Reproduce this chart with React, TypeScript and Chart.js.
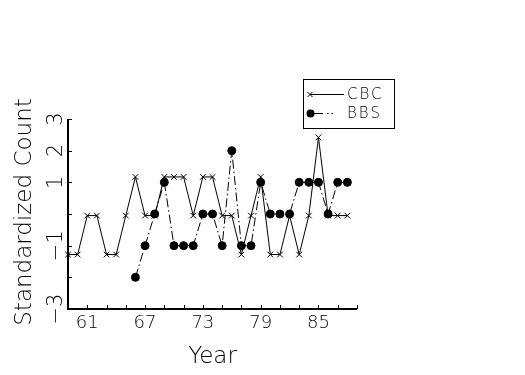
import React, { useEffect, useRef } from "react";
import { Chart, registerables } from "chart.js";

Chart.register(...registerables);

const cbcYears = [59, 60, 61, 62, 63, 64, 65, 66, 67, 68, 69, 70, 71, 72, 73, 74, 75, 76, 77, 78, 79, 80, 81, 82, 83, 84, 85, 86, 87, 88];
const cbcValues = [-1.28, -1.28, -0.05, -0.05, -1.28, -1.28, -0.05, 1.17, -0.05, -0.05, 1.17, 1.17, 1.17, -0.05, 1.17, 1.17, -0.05, -0.05, -1.28, -0.05, 1.17, -1.28, -1.28, -0.05, -1.28, -0.05, 2.42, -0.05, -0.05, -0.05];

const bbsYears = [66, 67, 68, 69, 70, 71, 72, 73, 74, 75, 76, 77, 78, 79, 80, 81, 82, 83, 84, 85, 86, 87, 88];
const bbsValues = [-2, -1, 0, 1, -1, -1, -1, 0, 0, -1, 2, -1, -1, 1, 0, 0, 0, 1, 1, 1, 0, 1, 1];

const xTickMarks = [59, 61, 63, 65, 67, 69, 71, 73, 75, 77, 79, 81, 83, 85, 87, 89];
const xTickLabels = [61, 67, 73, 79, 85];
const yTickMarks = [3, 2, 1, 0, -1, -2, -3];
const yTickLabels = [3, 2, 1, -1, -3];

const seriesNames = ["CBC", "BBS"];
const xTitle = "Year";
const yTitle = "Standardized Count";

const FONT = "'DejaVu Sans', sans-serif";
const BBS_DASH = [9, 3, 1.5, 3];

const axesPlugin = {
  id: "customAxes",
  afterDraw(chart: any) {
    const ctx = chart.ctx as CanvasRenderingContext2D;
    const xs = chart.scales.x;
    const ys = chart.scales.y;
    const area = chart.chartArea;
    ctx.save();
    ctx.strokeStyle = "#000";
    ctx.fillStyle = "#000";

    // axis lines
    ctx.lineWidth = 2;
    ctx.beginPath();
    ctx.moveTo(area.left, area.top);
    ctx.lineTo(area.left, area.bottom);
    ctx.lineTo(area.right, area.bottom);
    ctx.stroke();

    // tick marks (inward)
    ctx.lineWidth = 1;
    ctx.beginPath();
    xTickMarks.forEach((v) => {
      const px = Math.round(xs.getPixelForValue(v)) + 0.5;
      ctx.moveTo(px, area.bottom);
      ctx.lineTo(px, area.bottom - 4);
    });
    yTickMarks.forEach((v) => {
      const py = Math.round(ys.getPixelForValue(v)) + 0.5;
      ctx.moveTo(area.left, py);
      ctx.lineTo(area.left + 4, py);
    });
    ctx.stroke();

    // x tick labels
    ctx.font = `200 18px ${FONT}`;
    ctx.textAlign = "center";
    ctx.textBaseline = "alphabetic";
    xTickLabels.forEach((v) => {
      ctx.fillText(String(v), xs.getPixelForValue(v), 328);
    });

    // y tick labels (rotated)
    ctx.font = `200 21px ${FONT}`;
    yTickLabels.forEach((v) => {
      const py = ys.getPixelForValue(v);
      ctx.save();
      ctx.translate(62, py);
      ctx.rotate(-Math.PI / 2);
      ctx.textAlign = "center";
      ctx.fillText(v < 0 ? "\u2212" + Math.abs(v) : String(v), 0, 0);
      ctx.restore();
    });

    // titles
    ctx.font = `200 23px ${FONT}`;
    ctx.textAlign = "center";
    ctx.fillText(xTitle, (area.left + area.right) / 2, 363);
    ctx.save();
    ctx.translate(31, 212);
    ctx.rotate(-Math.PI / 2);
    ctx.fillText(yTitle, 0, 0);
    ctx.restore();

    // legend
    ctx.lineWidth = 1;
    ctx.strokeRect(303.5, 79.5, 91, 49);
    // CBC sample
    ctx.beginPath();
    ctx.moveTo(310, 94.5);
    ctx.lineTo(344, 94.5);
    ctx.stroke();
    ctx.beginPath();
    ctx.moveTo(307.5, 92);
    ctx.lineTo(312.5, 97);
    ctx.moveTo(312.5, 92);
    ctx.lineTo(307.5, 97);
    ctx.stroke();
    // BBS sample
    ctx.save();
    ctx.setLineDash([13, 4, 1.5, 3, 1.5, 40]);
    ctx.beginPath();
    ctx.moveTo(310, 113.5);
    ctx.lineTo(340, 113.5);
    ctx.stroke();
    ctx.restore();
    ctx.beginPath();
    ctx.arc(310.5, 113.5, 4, 0, Math.PI * 2);
    ctx.fill();

    ctx.font = `200 15px ${FONT}`;
    ctx.textAlign = "left";
    ctx.textBaseline = "middle";
    (ctx as any).letterSpacing = "2px";
    ctx.fillText(seriesNames[0], 347, 95);
    ctx.fillText(seriesNames[1], 347, 114);
    (ctx as any).letterSpacing = "0px";

    ctx.restore();
  },
};

export default function App() {
  const canvasRef = useRef<HTMLCanvasElement | null>(null);

  useEffect(() => {
    const canvas = canvasRef.current;
    if (!canvas) return;
    const chart = new Chart(canvas, {
      type: "line",
      data: {
        datasets: [
          {
            label: seriesNames[0],
            data: cbcYears.map((x, i) => ({ x, y: cbcValues[i] })),
            borderColor: "#000",
            backgroundColor: "#000",
            borderWidth: 1,
            pointStyle: "crossRot",
            pointRadius: 4,
            pointBorderWidth: 1,
            pointBorderColor: "#000",
            tension: 0,
            clip: false,
          },
          {
            label: seriesNames[1],
            data: bbsYears.map((x, i) => ({ x, y: bbsValues[i] })),
            borderColor: "#000",
            backgroundColor: "#000",
            borderWidth: 1,
            borderDash: BBS_DASH,
            pointStyle: "circle",
            pointRadius: 4,
            pointBorderWidth: 1,
            pointBackgroundColor: "#000",
            pointBorderColor: "#000",
            tension: 0,
            clip: false,
          },
        ],
      },
      options: {
        animation: false,
        responsive: false,
        devicePixelRatio: 1,
        layout: { padding: { left: 68, right: 168, top: 119, bottom: 66 } },
        plugins: {
          legend: { display: false },
          tooltip: { enabled: false },
        },
        scales: {
          x: { type: "linear", min: 59, max: 89, display: false },
          y: { type: "linear", min: -3, max: 3, display: false },
        },
      },
      plugins: [axesPlugin],
    });
    return () => chart.destroy();
  }, []);

  return (
    <div style={{ position: "fixed", left: 0, top: 0, width: 525, height: 375, background: "#fff" }}>
      <canvas ref={canvasRef} width={525} height={375} />
    </div>
  );
}
